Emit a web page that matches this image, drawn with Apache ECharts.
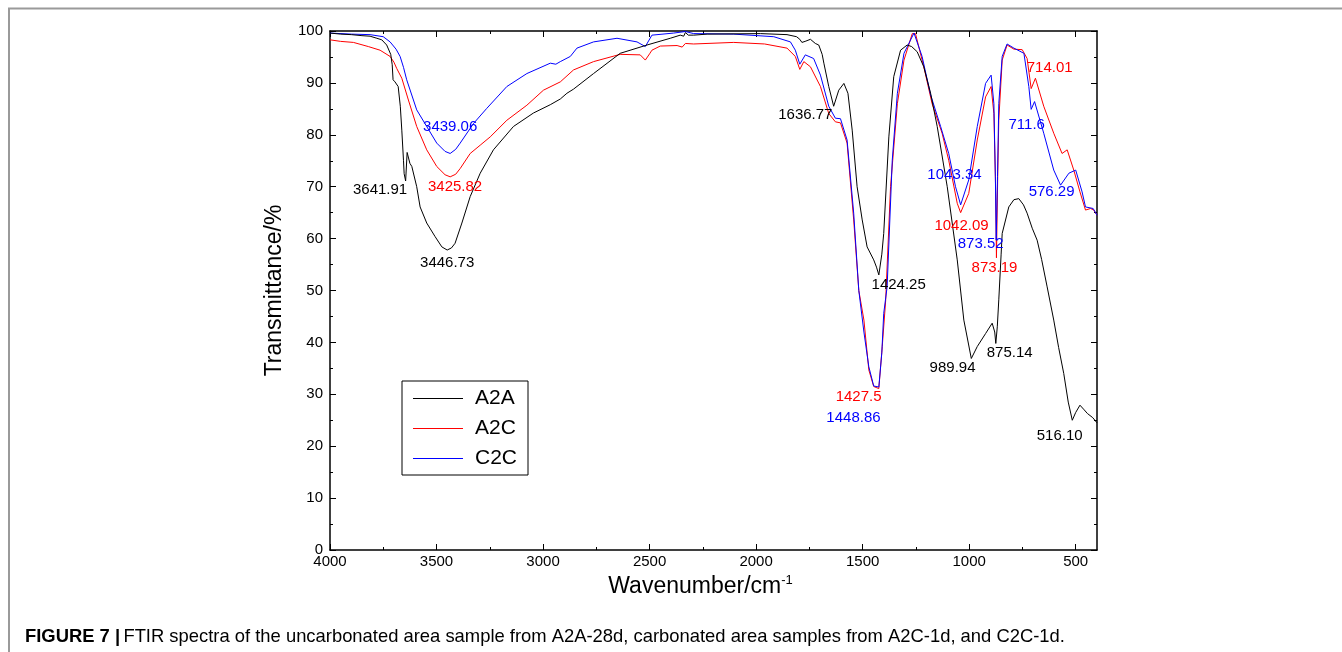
<!DOCTYPE html>
<html>
<head>
<meta charset="utf-8">
<script src="https://cdn.jsdelivr.net/npm/echarts@6/dist/echarts.min.js"></script>
<style>html,body{margin:0;padding:0;background:#fff;}#chart{width:1342px;height:652px;}</style>
</head>
<body>
<div id="chart"></div>
<script>
// ---------- data (wavenumber cm^-1, transmittance %) ----------
const a2aWn = [4000,3950,3900,3850,3812,3780,3757,3734,3715,3708,3704,3695,3680,3670,3663,3655,3652,3645,3638,3625,3616,3593,3577,3546,3507,3475,3450,3430,3413,3381,3342,3295,3233,3139,3045,2966,2919,2888,2857,2763,2638,2512,2403,2356,2340,2332,2318,2293,2230,1980,1855,1810,1795,1785,1770,1745,1722,1706,1690,1682,1659,1636,1612,1588,1569,1549,1526,1502,1479,1448,1435,1424,1410,1401,1377,1354,1322,1291,1270,1244,1213,1181,1150,1103,1056,1025,990,962,923,892,880,875,868,861,850,845,814,790,767,745,728,704,681,660,634,603,580,556,535,516,500,480,460,445,420,400];
const a2aT  = [99.6,99.4,99.3,99.1,99.0,98.6,98.3,97.3,95.5,93.5,90.6,90.2,89.3,85.5,80.9,75.0,72.5,71.1,76.6,74.5,73.9,70.0,66.1,63.0,60.4,58.4,57.8,58.2,59.1,63.0,68.1,72.6,77.1,81.6,84.2,85.8,86.9,88.0,88.8,91.8,95.7,97.3,98.6,99.2,99.0,99.7,99.2,99.2,99.4,99.5,99.3,98.9,98.4,97.8,98.0,98.4,97.6,97.3,95.5,93.8,89.3,85.5,88.6,89.9,88.0,80.9,70.0,63.6,58.4,55.9,54.5,53.0,57.0,61.0,79.6,91.2,96.3,97.3,97.0,96.0,93.1,88.0,81.6,70.0,55.9,44.3,36.9,39.2,41.7,43.7,42.0,39.8,43.0,48.2,57.0,61.0,66.1,67.5,67.7,66.5,64.9,62.0,59.7,56.0,50.7,44.3,39.0,34.0,28.5,25.0,26.5,27.9,27.0,26.3,25.5,24.5];

const a2cWn = [4000,3950,3890,3820,3765,3718,3700,3687,3663,3632,3593,3546,3499,3460,3436,3410,3389,3342,3295,3248,3170,3076,2998,2919,2857,2763,2638,2544,2520,2500,2489,2450,2371,2347,2332,2293,2105,1960,1855,1816,1795,1776,1745,1698,1659,1628,1604,1573,1542,1518,1494,1471,1448,1424,1408,1392,1369,1337,1306,1267,1252,1213,1174,1127,1096,1056,1040,1033,1002,962,923,897,884,876,872,866,861,845,822,790,751,728,709,689,650,603,564,540,509,480,454,430,415,400];
const a2cT  = [98.3,98.0,97.8,97.0,96.3,95.1,94.0,92.8,90.9,86.7,81.6,77.1,73.9,72.3,71.9,72.4,73.5,76.4,78.0,79.6,82.8,85.7,88.6,90.2,92.5,94.1,95.5,95.4,94.4,95.6,96.3,97.1,97.2,96.9,97.6,97.5,97.8,97.5,96.7,95.1,92.6,94.1,93.1,89.3,84.1,82.5,82.3,78.4,63.6,50.0,44.3,34.7,31.5,31.1,39.2,48.0,70.0,86.0,94.4,99.5,99.5,93.1,86.0,80.3,75.1,66.8,65.0,64.9,68.7,79.0,87.3,89.3,84.1,70.0,56.3,72.0,82.8,94.4,97.3,96.5,96.4,94.7,88.9,90.9,85.5,80.3,76.4,77.1,73.2,69.0,65.5,65.8,65.5,64.5];

const c2cWn = [4000,3900,3812,3750,3718,3690,3671,3655,3640,3593,3546,3499,3460,3436,3410,3389,3326,3264,3170,3076,2966,2940,2919,2872,2841,2763,2653,2559,2520,2489,2387,2332,2293,2105,1917,1839,1816,1795,1769,1730,1698,1659,1628,1604,1573,1542,1518,1494,1471,1448,1424,1410,1401,1385,1361,1337,1306,1259,1221,1181,1134,1096,1064,1040,1002,962,923,897,884,877,873,867,861,845,822,790,743,720,709,693,650,603,571,532,500,470,454,418,400];
const c2cT  = [99.6,99.4,99.3,98.9,97.9,96.5,95.1,93.0,90.6,84.8,81.6,78.4,76.8,76.4,77.2,78.4,82.2,85.1,89.3,91.8,93.8,93.6,94.1,95.1,96.7,97.9,98.6,97.9,97.0,99.2,99.6,99.9,99.5,99.4,98.9,97.9,96.3,93.6,95.4,94.7,91.5,85.5,83.2,83.1,79.0,64.9,50.0,42.0,35.3,31.6,31.4,38.0,45.6,50.7,75.1,88.0,95.7,99.6,95.1,87.7,81.6,76.4,70.0,66.5,71.3,81.6,89.9,91.5,86.0,72.0,59.7,72.0,86.0,95.1,97.5,96.7,95.7,89.3,84.9,86.4,80.3,73.2,70.3,72.6,73.2,69.0,66.1,65.8,64.5];

// peak annotations: [wavenumber, transmittance, text, colour]
const peakLabels = [
  [3765, 69.4, '3641.91', '#000'],
  [3413, 69.9, '3425.82', '#ff0000'],
  [3436, 81.5, '3439.06', '#0000ff'],
  [3450, 55.3, '3446.73', '#000'],
  [1769, 83.8, '1636.77', '#000'],
  [1331, 51.1, '1424.25', '#000'],
  [1519, 29.5, '1427.5', '#ff0000'],
  [1543, 25.4, '1448.86', '#0000ff'],
  [1069, 72.3, '1043.34', '#0000ff'],
  [1036, 62.4, '1042.09', '#ff0000'],
  [946, 59.0, '873.52', '#0000ff'],
  [881, 54.3, '873.19', '#ff0000'],
  [622, 92.9, '714.01', '#ff0000'],
  [730, 81.9, '711.6', '#0000ff'],
  [613, 69.0, '576.29', '#0000ff'],
  [1078, 35.1, '989.94', '#000'],
  [810, 38.0, '875.14', '#000'],
  [575, 22.0, '516.10', '#000']
];

const xMajor = [500,1000,1500,2000,2500,3000,3500,4000];
const xMinor = [750,1250,1750,2250,2750,3250,3750];

const FONT = 'Liberation Sans, Arial, sans-serif';
const zip = (w, t) => w.map((v, i) => [v, t[i]]);

const chart = echarts.init(document.getElementById('chart'));

function xAx(pos, ticks, len, labels, line, extra) {
  return Object.assign({
    type: 'value', min: 400, max: 4000, inverse: true, position: pos, gridIndex: 0,
    axisLine: {show: line, onZero: false, lineStyle: {color: '#000', width: 1.5}},
    axisTick: {show: true, inside: true, length: len, customValues: ticks, lineStyle: {color: '#000', width: 1}},
    axisLabel: labels ? {show: true, customValues: xMajor, formatter: v => String(v), color: '#000', fontSize: 15, fontFamily: FONT, margin: 4} : {show: false},
    splitLine: {show: false}
  }, extra || {});
}
function yAx(pos, interval, len, labels, line) {
  return {
    type: 'value', min: 0, max: 100, interval: interval, position: pos, gridIndex: 0,
    axisLine: {show: line, onZero: false, lineStyle: {color: '#000', width: 1.5}},
    axisTick: {show: true, inside: true, length: len, lineStyle: {color: '#000', width: 1}},
    axisLabel: labels ? {show: true, color: '#000', fontSize: 15, fontFamily: FONT, margin: 7} : {show: false},
    splitLine: {show: false},
    name: labels ? 'Transmittance/%' : '',
    nameLocation: 'middle', nameGap: 44,
    nameTextStyle: {fontSize: 23, fontFamily: FONT, color: '#000'}
  };
}

chart.setOption({
  animation: false,
  backgroundColor: '#fff',
  grid: {left: 330, right: 245, top: 31, bottom: 102, containLabel: false},
  xAxis: [
    xAx('bottom', xMajor, 6, true, true, {
      name: 'Wavenumber/cm{sup|-1}', nameLocation: 'middle', nameGap: 17,
      nameTextStyle: {fontSize: 23, fontFamily: FONT, color: '#000', padding: [0, 26, 0, 0],
        rich: {sup: {fontSize: 13, fontFamily: FONT, color: '#000', padding: [0, 0, 12, 0]}}}
    }),
    xAx('bottom', xMinor, 3, false, false),
    xAx('top', xMajor, 6, false, true),
    xAx('top', xMinor, 3, false, false)
  ],
  yAxis: [
    yAx('left', 10, 6, true, true),
    yAx('left', 5, 3, false, false),
    yAx('right', 10, 6, false, true),
    yAx('right', 5, 3, false, false)
  ],
  legend: {
    data: ['A2A', 'A2C', 'C2C'],
    orient: 'vertical', left: 402, top: 381,
    icon: 'rect',
    itemWidth: 50, itemHeight: 1.2, itemGap: 9,
    padding: [7, 11, 6, 11],
    borderColor: '#000', borderWidth: 1, backgroundColor: '#fff',
    textStyle: {fontSize: 21, fontFamily: FONT, color: '#000', lineHeight: 20, padding: [0, 0, 0, 7]}
  },
  series: [
    {name: 'A2A', type: 'line', symbol: 'none', data: zip(a2aWn, a2aT), lineStyle: {color: '#000', width: 1}, itemStyle: {color: '#000'}, z: 3},
    {name: 'A2C', type: 'line', symbol: 'none', data: zip(a2cWn, a2cT), lineStyle: {color: '#ff0000', width: 1}, itemStyle: {color: '#ff0000'}, z: 2},
    {name: 'C2C', type: 'line', symbol: 'none', data: zip(c2cWn, c2cT), lineStyle: {color: '#0000ff', width: 1}, itemStyle: {color: '#0000ff'}, z: 2},
    {name: 'peaks', type: 'scatter', symbol: 'circle', symbolSize: 1, silent: true, z: 5,
     itemStyle: {color: 'rgba(0,0,0,0)', opacity: 1},
     data: peakLabels.map(p => ({value: [p[0], p[1], p[2]], label: {color: p[3]}})),
     label: {show: true, position: 'inside', opacity: 1, textBorderWidth: 0, formatter: p => p.value[2], fontSize: 15, fontFamily: FONT}}
  ],
  graphic: [
    {type: 'polyline', silent: true, shape: {points: [[9, 652], [9, 8.5], [1342, 8.5]]}, style: {stroke: '#9a9a9a', lineWidth: 2, fill: null}},
    {type: 'text', left: 25, top: 628, silent: true,
     style: {text: '{b|FIGURE 7 |} {n|FTIR spectra of the uncarbonated area sample from A2A-28d, carbonated area samples from A2C-1d, and C2C-1d.}',
       rich: {b: {fontSize: 18.4, fontWeight: 'bold', fontFamily: FONT, fill: '#000'}, n: {fontSize: 18.4, fontFamily: FONT, fill: '#000'}}}}
  ]
});
</script>
</body>
</html>
